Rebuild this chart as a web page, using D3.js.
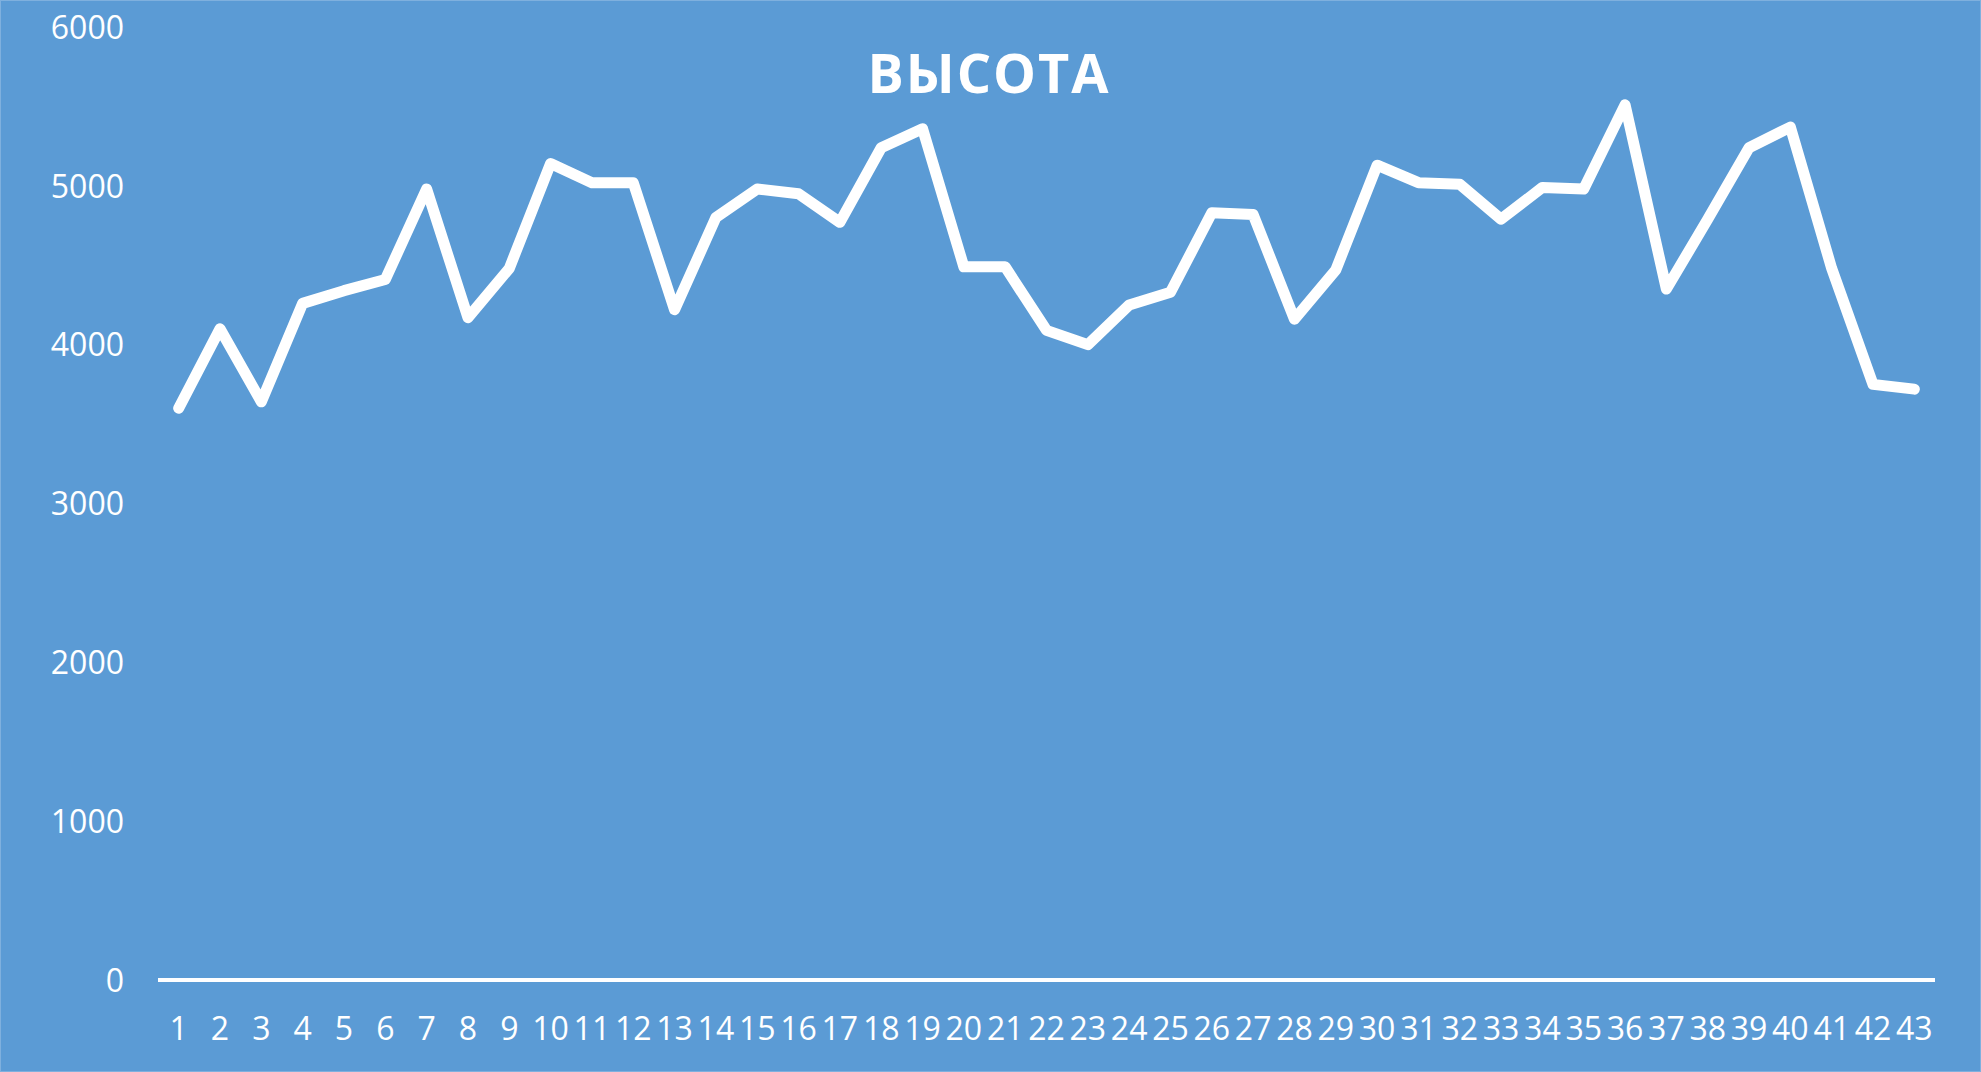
<!DOCTYPE html>
<html>
<head>
<meta charset="utf-8">
<script src="https://cdn.jsdelivr.net/npm/d3@7"></script>
<style>
  html, body { margin: 0; padding: 0; background: #5B9BD5; }
  svg { display: block; }
</style>
</head>
<body>
<svg id="chart" width="1981" height="1072"></svg>
<script>
const title = "ВЫСОТА";
const categories = Array.from({length: 43}, (_, i) => String(i + 1));
const heights = [
  3600, 4100, 3640, 4260, 4340, 4410, 4980, 4170, 4480, 5140,
  5020, 5020, 4220, 4800, 4980, 4950, 4770, 5240, 5360, 4490,
  4490, 4090, 4000, 4250, 4330, 4830, 4820, 4160, 4470, 5130,
  5020, 5010, 4790, 4990, 4980, 5510, 4350, 4790, 5240, 5370,
  4480, 3750, 3720
];
const yTicks = [0, 1000, 2000, 3000, 4000, 5000, 6000];

const W = 1981, H = 1072;
const svg = d3.select("#chart");
const font = "'Open Sans', 'Noto Sans', sans-serif";

svg.append("rect").attr("x", 0.5).attr("y", 0.5)
  .attr("width", W - 1).attr("height", H - 1)
  .attr("fill", "#5B9BD5").attr("stroke", "#7fb0de").attr("stroke-width", 1);

const plotLeft = 158, plotRight = 1935, plotTop = 27, plotBottom = 980;

const x = d3.scaleBand().domain(categories).range([plotLeft, plotRight]).paddingInner(0).paddingOuter(0);
const y = d3.scaleLinear().domain([0, 6000]).range([plotBottom, plotTop]);

// Y axis labels
const yAxis = d3.axisLeft(y).tickValues(yTicks).tickSize(0).tickPadding(0).tickFormat(d3.format("d"));
const yg = svg.append("g").attr("transform", `translate(124,0)`).call(yAxis);
yg.select(".domain").remove();
yg.selectAll("text").attr("fill", "#ffffff").attr("font-family", font)
  .attr("font-size", 32).attr("dy", "0.35em");

// X axis
const xAxis = d3.axisBottom(x).tickSize(0).tickPadding(0);
const xg = svg.append("g").attr("transform", `translate(0,${plotBottom})`).call(xAxis);
xg.select(".domain").remove();
xg.selectAll("text").attr("fill", "#ffffff").attr("font-family", font)
  .attr("font-size", 32).attr("dy", 0).attr("y", 60);

// zero baseline
svg.append("line")
  .attr("x1", plotLeft).attr("x2", plotRight)
  .attr("y1", y(0)).attr("y2", y(0))
  .attr("stroke", "#ffffff").attr("stroke-width", 4);

// line
const line = d3.line()
  .x((d, i) => x(categories[i]) + x.bandwidth() / 2)
  .y(d => y(d));
svg.append("path").datum(heights)
  .attr("d", line)
  .attr("fill", "none")
  .attr("stroke", "#ffffff")
  .attr("stroke-width", 11)
  .attr("stroke-linejoin", "round")
  .attr("stroke-linecap", "round");

// title
svg.append("text")
  .attr("x", 989).attr("y", 93)
  .attr("text-anchor", "middle")
  .attr("fill", "#ffffff")
  .attr("font-family", font)
  .attr("font-weight", "bold")
  .attr("font-size", 54)
  .attr("letter-spacing", 2)
  .text(title);
</script>
</body>
</html>
